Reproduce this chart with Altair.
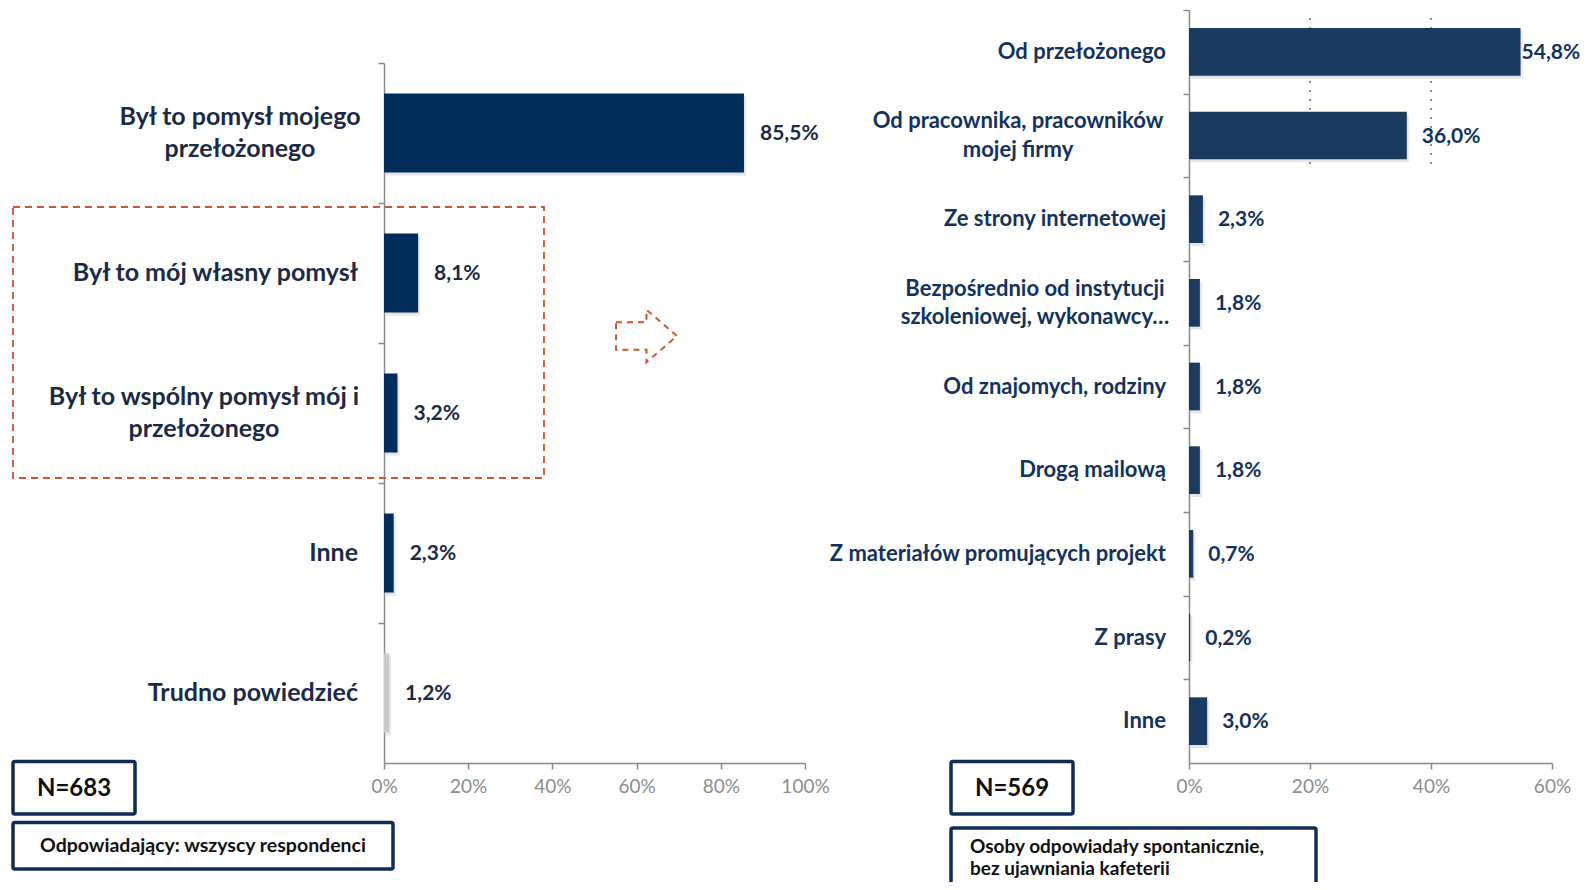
import altair as alt
import pandas as pd

# ---------------- data ----------------
left_categories = [
    "Był to pomysł mojego\nprzełożonego",
    "Był to mój własny pomysł",
    "Był to wspólny pomysł mój i\nprzełożonego",
    "Inne",
    "Trudno powiedzieć",
]
left_values = [85.5, 8.1, 3.2, 2.3, 1.2]
left_ticks = [0, 20, 40, 60, 80, 100]

right_categories = [
    "Od przełożonego",
    "Od pracownika, pracowników\nmojej firmy",
    "Ze strony internetowej",
    "Bezpośrednio od instytucji\nszkoleniowej, wykonawcy…",
    "Od znajomych, rodziny",
    "Drogą mailową",
    "Z materiałów promujących projekt",
    "Z prasy",
    "Inne",
]
right_values = [54.8, 36.0, 2.3, 1.8, 1.8, 1.8, 0.7, 0.2, 3.0]
right_ticks = [0, 20, 40, 60]
right_dotted = [20, 40]

left_n = "N=683"
left_note = "Odpowiadający: wszyscy respondenci"
right_n = "N=569"
right_note = "Osoby odpowiadały spontanicznie,\nbez ujawniania kafeterii"

# ---------------- style ----------------
W, H = 1576, 874
FONT = "Lato"
LEFT_BAR = "#002D5A"
RIGHT_BAR = "#1B3A60"
GREY_BAR = "#C9C9C9"
LEFT_TEXT = "#1B2A47"
RIGHT_TEXT = "#13325F"
AXIS = "#8A8A8A"
TICK_LABEL = "#8C8C8C"
BOX = "#0E2C56"
DASH = "#D2572E"


def fmt(v):
    return f"{v:.1f}".replace(".", ",") + "%"


left_df = pd.DataFrame({"cat": left_categories, "v": left_values,
                        "label": [fmt(v) for v in left_values]})
right_df = pd.DataFrame({"cat": right_categories, "v": right_values,
                         "label": [fmt(v) for v in right_values]})

axis_common = dict(title=None, grid=False, domainColor=AXIS, domainWidth=1.5,
                   tickColor=AXIS, tickWidth=1.5, tickSize=6)

# ---------------- left panel ----------------
L_X0, L_X1, L_Y0, L_Y1, L_PAD = 376, 797, 55, 755, 0.436
l_step = (L_Y1 - L_Y0) / len(left_categories)

lx = alt.X("v:Q",
           scale=alt.Scale(domain=[0, 100], range=[L_X0, L_X1], nice=False),
           axis=alt.Axis(orient="bottom", offset=L_Y1 - H, values=left_ticks,
                         labelExpr="datum.value + '%'", labelColor=TICK_LABEL,
                         labelFont=FONT, labelFontSize=19, labelPadding=8,
                         labelFlush=False, labelOverlap=False, **axis_common))
ly = alt.Y("cat:N", sort=left_categories,
           scale=alt.Scale(domain=left_categories, range=[L_Y0, L_Y1],
                           paddingInner=L_PAD, paddingOuter=L_PAD / 2),
           axis=alt.Axis(orient="left", offset=-L_X0, labels=False,
                         bandPosition=0, tickOffset=-L_PAD / 2 * l_step,
                         **axis_common))

lbase = alt.Chart(left_df).encode(x=lx, y=ly)
l_shadow = lbase.mark_bar(color="#000000", opacity=0.10, xOffset=2, x2Offset=2, yOffset=3)
l_bars = lbase.mark_bar().encode(
    color=alt.condition("datum.cat == 'Trudno powiedzieć'",
                        alt.value(GREY_BAR), alt.value(LEFT_BAR)))
l_vals = lbase.mark_text(align="left", baseline="middle", dx=16, dy=1, font=FONT,
                         fontWeight="bold", fontSize=21, color=LEFT_TEXT
                         ).encode(text="label:N")
L_LH = 32.5
lab_style = dict(baseline="middle", font=FONT, fontWeight="bold", fontSize=25,
                 color=LEFT_TEXT, lineBreak="\n", lineHeight=L_LH)
l_lab_single = lbase.mark_text(align="right", **lab_style).encode(
    x=alt.value(350), text="cat:N").transform_filter("indexof(datum.cat, '\\n') < 0")
l_lab_m1 = lbase.mark_text(align="center", dy=-L_LH / 2, **lab_style).encode(
    x=alt.value(232), text="cat:N").transform_filter(
    alt.FieldEqualPredicate(field="cat", equal=left_categories[0]))
l_lab_m2 = lbase.mark_text(align="center", dy=-L_LH / 2, **lab_style).encode(
    x=alt.value(196), text="cat:N").transform_filter(
    alt.FieldEqualPredicate(field="cat", equal=left_categories[2]))
left = alt.layer(l_shadow, l_bars, l_vals, l_lab_single, l_lab_m1, l_lab_m2)

# ---------------- right panel ----------------
R_X0, R_X1, R_Y0, R_Y1, R_PAD = 1181, 1544, 2, 755, 0.43
r_step = (R_Y1 - R_Y0) / len(right_categories)

rx = alt.X("v:Q",
           scale=alt.Scale(domain=[0, 60], range=[R_X0, R_X1], nice=False),
           axis=alt.Axis(orient="bottom", offset=R_Y1 - H, values=right_ticks,
                         labelExpr="datum.value + '%'", labelColor=TICK_LABEL,
                         labelFont=FONT, labelFontSize=19, labelPadding=8,
                         labelFlush=False, labelOverlap=False, **axis_common))
ry = alt.Y("cat:N", sort=right_categories,
           scale=alt.Scale(domain=right_categories, range=[R_Y0, R_Y1],
                           paddingInner=R_PAD, paddingOuter=R_PAD / 2),
           axis=alt.Axis(orient="left", offset=-R_X0, labels=False,
                         bandPosition=0, tickOffset=-R_PAD / 2 * r_step,
                         **axis_common))

rbase = alt.Chart(right_df).encode(x=rx, y=ry)
r_dots = alt.Chart(pd.DataFrame({"v": right_dotted})).mark_rule(
    color="#444444", strokeWidth=1.2, strokeDash=[2, 7]).encode(
    x=rx, y=alt.value(10), y2=alt.value(159))
r_shadow = rbase.mark_bar(color="#000000", opacity=0.10, xOffset=2, x2Offset=2, yOffset=3)
r_bars = rbase.mark_bar(color=RIGHT_BAR)
val_style = dict(align="left", baseline="middle", font=FONT, fontWeight="bold",
                 fontSize=21, color=RIGHT_TEXT, dy=1)
r_vals = rbase.mark_text(dx=15, **val_style).encode(text="label:N").transform_filter("datum.v < 50")
r_vals_top = rbase.mark_text(dx=1, **val_style).encode(text="label:N").transform_filter("datum.v >= 50")
R_LH = 28.5
rlab_style = dict(baseline="middle", font=FONT, fontWeight="bold", fontSize=22,
                  color=RIGHT_TEXT, lineBreak="\n", lineHeight=R_LH)
r_lab_single = rbase.mark_text(align="right", **rlab_style).encode(
    x=alt.value(1158), text="cat:N").transform_filter("indexof(datum.cat, '\\n') < 0")
r_lab_m1 = rbase.mark_text(align="center", dy=-R_LH / 2, **rlab_style).encode(
    x=alt.value(1010), text="cat:N").transform_filter(
    alt.FieldEqualPredicate(field="cat", equal=right_categories[1]))
r_lab_m2 = rbase.mark_text(align="center", dy=-R_LH / 2, **rlab_style).encode(
    x=alt.value(1027), text="cat:N").transform_filter(
    alt.FieldEqualPredicate(field="cat", equal=right_categories[3]))
right = alt.layer(r_dots, r_shadow, r_bars, r_vals, r_vals_top, r_lab_single, r_lab_m1, r_lab_m2)

# ---------------- annotations ----------------
one = pd.DataFrame({"a": [0]})


def box(x, x2, y, y2):
    return alt.Chart(one).mark_rect(fill="white", stroke=BOX, strokeWidth=3.5,
                                    cornerRadius=2).encode(
        x=alt.value(x), x2=alt.value(x2), y=alt.value(y), y2=alt.value(y2))


def label(txt, x, y, size, align="center", lh=23.5):
    return alt.Chart(one).mark_text(text=txt, align=align, baseline="middle",
                                    font=FONT, fontWeight="bold", fontSize=size,
                                    color="#111111", lineBreak="\n", lineHeight=lh
                                    ).encode(x=alt.value(x), y=alt.value(y))


ann = [
    box(5, 127, 753.5, 806), label(left_n, 66, 781, 24),
    box(5, 385, 814.5, 861), label(left_note, 195, 838, 19.5),
    box(943, 1065, 753.5, 806), label(right_n, 1004, 781, 24),
    box(943, 1308, 820, 900), label(right_note, 962, 839, 19, align="left", lh=21.5),
]

arrow_path = "M-1,-0.45 L0,-0.45 L0,-0.86 L1,0 L0,0.86 L0,0.45 L-1,0.45 Z"
arrow = alt.Chart(one).mark_point(shape=arrow_path, size=61 * 61, filled=False,
                                  color=DASH, strokeWidth=2, strokeDash=[6, 5],
                                  opacity=1).encode(x=alt.value(638.5), y=alt.value(328))
dashed = alt.Chart(one).mark_rect(fillOpacity=0, stroke=DASH, strokeWidth=1.8,
                                  strokeDash=[7, 5]).encode(
    x=alt.value(5), x2=alt.value(536), y=alt.value(199), y2=alt.value(470))

chart = alt.layer(left, right, *ann, arrow, dashed).resolve_scale(
    x="independent", y="independent"
).properties(
    width=W, height=H, autosize=alt.AutoSizeParams(type="none"), padding=0,
    background="white"
).configure_view(strokeWidth=0)

chart.save("out.html", embed_options={"renderer": "svg", "actions": False})
